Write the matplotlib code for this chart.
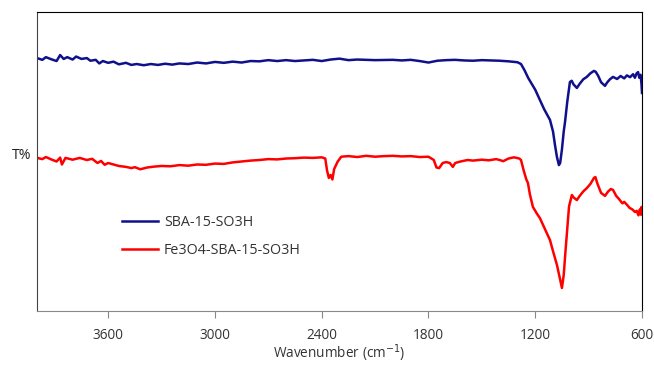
import matplotlib
matplotlib.use('Agg')
import matplotlib.pyplot as plt
import matplotlib.ticker as mtick

plt.rcParams['font.family'] = ['Open Sans', 'DejaVu Sans']

# 스펙트럼 데이터 (그림에서 읽은 값, T% 임의 단위)
sba_wn = [4000, 3970, 3950, 3920, 3890, 3870, 3850, 3830, 3800, 3780, 3750, 3720, 3700,
          3670, 3650, 3630, 3600, 3570, 3540, 3500, 3470, 3440, 3400, 3360, 3320, 3280,
          3240, 3200, 3150, 3100, 3050, 3000, 2950, 2900, 2850, 2800, 2750, 2700, 2650,
          2600, 2550, 2500, 2450, 2400, 2350, 2300, 2250, 2200, 2100, 2000, 1950, 1900,
          1850, 1800, 1750, 1700, 1650, 1600, 1550, 1500, 1450, 1400, 1350, 1300, 1280,
          1260, 1240, 1220, 1200, 1174, 1150, 1117, 1100, 1089, 1078, 1067, 1060, 1050,
          1040, 1033, 1020, 1005, 995, 985, 966, 950, 930, 910, 890, 870, 860, 845, 830,
          808, 795, 780, 763, 740, 720, 700, 685, 667, 650, 640, 630, 622, 615, 608, 603, 600]
sba_t = [84.6, 84.0, 84.9, 84.2, 83.6, 85.6, 84.3, 84.9, 84.1, 85.1, 84.3, 84.6, 83.7,
         84.0, 82.8, 83.6, 83.0, 83.4, 82.5, 83.0, 82.3, 82.6, 82.2, 82.6, 82.3, 82.7,
         82.4, 82.8, 82.6, 83.1, 82.8, 83.3, 83.0, 83.4, 83.1, 83.6, 83.5, 83.9, 83.6,
         83.9, 83.6, 83.8, 84.0, 83.6, 84.1, 84.4, 83.9, 84.1, 83.9, 84.0, 83.8, 84.0,
         83.6, 83.1, 83.7, 83.9, 84.0, 83.8, 83.7, 83.9, 83.8, 83.7, 83.5, 83.2, 82.6,
         80.5, 78.0, 76.0, 74.0, 70.6, 67.5, 63.9, 60.0, 55.5, 51.5, 48.8, 49.5, 54.0,
         60.0, 63.0, 70.0, 76.6, 77.0, 75.8, 74.6, 76.0, 77.5, 78.3, 79.5, 80.3, 80.0, 78.5, 76.5,
         75.3, 76.5, 77.5, 78.3, 77.6, 78.6, 77.8, 78.8, 78.2, 79.2, 78.0, 79.5, 79.9, 78.0, 79.0, 76.0, 72.9]

fe_wn = [4000, 3970, 3950, 3920, 3890, 3870, 3860, 3840, 3800, 3760, 3720, 3690, 3660,
         3640, 3620, 3600, 3570, 3540, 3500, 3470, 3450, 3420, 3380, 3340, 3300, 3250,
         3200, 3150, 3100, 3050, 3000, 2950, 2900, 2850, 2800, 2750, 2700, 2650, 2600,
         2550, 2500, 2450, 2400, 2380, 2370, 2360, 2350, 2340, 2330, 2310, 2290, 2250,
         2200, 2150, 2100, 2050, 2000, 1950, 1900, 1850, 1800, 1770, 1755, 1740, 1720,
         1700, 1680, 1663, 1650, 1620, 1580, 1550, 1500, 1460, 1420, 1400, 1380, 1350,
         1320, 1290, 1280, 1265, 1250, 1241, 1230, 1213, 1190, 1174, 1150, 1117, 1100,
         1078, 1060, 1050, 1040, 1030, 1022, 1010, 994, 985, 966, 950, 930, 910, 890,
         870, 862, 850, 830, 808, 790, 775, 763, 745, 730, 710, 700, 684, 670, 655, 639,
         630, 620, 612, 606, 603, 600]
fe_t = [51.2, 50.8, 51.5, 50.7, 50.0, 51.3, 49.0, 51.2, 50.6, 51.2, 50.5, 50.9, 49.5,
        50.2, 48.9, 49.5, 49.0, 48.5, 48.2, 47.8, 48.1, 47.4, 48.0, 48.3, 48.5, 48.4,
        48.8, 48.6, 49.0, 48.9, 49.3, 49.2, 49.7, 50.0, 50.3, 50.5, 50.8, 50.7, 51.0,
        51.1, 51.3, 51.2, 51.4, 51.0, 47.0, 44.5, 45.5, 44.0, 47.5, 50.0, 51.6, 51.8,
        51.5, 51.9, 51.6, 51.8, 51.9, 51.7, 51.8, 51.5, 51.6, 50.5, 48.0, 47.8, 49.5,
        49.8, 49.5, 48.2, 49.5, 50.0, 50.5, 50.3, 50.6, 50.4, 50.8, 50.5, 50.1, 51.0,
        51.4, 51.0, 50.5, 47.0, 44.0, 42.8, 39.0, 34.8, 32.5, 31.1, 28.0, 23.7, 20.0,
        15.4, 10.5, 7.7, 12.0, 20.0, 26.0, 35.0, 38.8, 38.0, 37.1, 38.5, 40.0, 41.1, 42.5,
        44.5, 44.8, 42.5, 39.5, 38.5, 40.0, 40.8, 40.5, 38.5, 37.5, 36.0, 36.5, 35.5, 34.5,
        34.0, 33.1, 33.5, 32.0, 34.0, 32.2, 34.8, 33.4]

x_ticks = [3600, 3000, 2400, 1800, 1200, 600]

fig = plt.figure(figsize=(6.54, 3.65), dpi=100)
ax = fig.add_axes([37 / 654, 1 - 311 / 365, 605 / 654, 299 / 365])

ax.plot(sba_wn, sba_t, color='#10108c', linewidth=1.8, label='SBA-15-SO3H')
ax.plot(fe_wn, fe_t, color='#ff0000', linewidth=1.8, label='Fe3O4-SBA-15-SO3H')

ax.set_xlim(4000, 600)
ax.set_ylim(0, 100)
ax.xaxis.set_major_locator(mtick.FixedLocator(x_ticks))
ax.set_yticks([])
ax.tick_params(axis='x', direction='out', length=5, color='#888888', labelsize=9.8,
               pad=7, labelcolor='#333333')

ax.spines['bottom'].set_color('#888888')
ax.spines['left'].set_color('#444444')
ax.spines['top'].set_color('black')
ax.spines['right'].set_color('black')

ax.set_xlabel('Wavenumber (cm$^{-1}$)', fontsize=9.8, color='#333333', labelpad=0)
ax.set_ylabel('T%', fontsize=10.2, rotation=0, color='#222222', va='center', ha='left')
ax.yaxis.set_label_coords(-0.042, 0.52)

ax.legend(loc='upper left', bbox_to_anchor=(0.12, 0.365), frameon=False, fontsize=10.3,
          handlelength=2.5, labelspacing=0.95, handletextpad=0.4,
          labelcolor='#333333')

fig.savefig('out.png', dpi=100)
